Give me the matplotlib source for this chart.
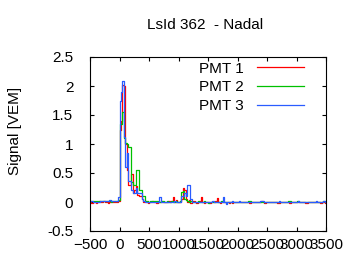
import matplotlib
matplotlib.use("Agg")
import matplotlib.pyplot as plt
import numpy as np

# 25 ns bins from -500 to 3500 ns
bin_width = 25
t_start = -500
t_stop = 3500

labels = ["PMT 1", "PMT 2", "PMT 3"]
colors = ["#ff0000", "#00c000", "#2a5cff"]

pmt1 = [
    0.00, -0.01, 0.00, 0.00, -0.01, 0.00, 0.01, 0.00, 0.00, 0.01,
    0.00, 0.00, -0.01, 0.00, 0.01, 0.00, 0.00, 0.00, 0.00, 0.02,
    1.25, 1.40, 2.02, 2.00, 1.00, 0.55, 0.30, 0.30, 0.48, 0.15,
    0.20, 0.28, 0.12, 0.10, 0.10, 0.05, 0.00, 0.01, 0.00, -0.01,
    0.00, 0.00, 0.01, 0.00, 0.00, -0.01, 0.00, 0.00, 0.01, 0.00,
    0.00, 0.00, 0.00, 0.01, 0.00, 0.02, 0.09, 0.00, 0.03, 0.00,
    0.00, 0.00, 0.05, 0.25, 0.20, 0.05, 0.00, 0.03, -0.02, 0.00,
    0.01, 0.00, -0.02, 0.00, 0.02, 0.08, 0.00, -0.02, 0.00, 0.00,
    0.00, -0.02, 0.00, 0.00, 0.00, 0.01, 0.07, 0.00, -0.02, 0.00,
    0.00, 0.00, 0.00, 0.00, -0.02, 0.00, -0.02, 0.00, 0.00, 0.00,
    0.00, 0.00, 0.00, 0.00, 0.00, 0.00, 0.00, 0.00, -0.02, 0.00,
    0.00, 0.00, 0.00, 0.00, 0.00, 0.00, 0.02, 0.00, -0.02, 0.00,
    0.00, 0.00, 0.00, 0.00, 0.00, 0.00, 0.00, -0.02, -0.02, 0.00,
    0.00, 0.00, 0.00, 0.00, 0.00, -0.02, 0.00, 0.00, 0.00, 0.00,
    0.00, 0.00, 0.00, 0.00, 0.00, 0.00, -0.02, -0.02, 0.00, 0.00,
    0.00, 0.00, 0.00, 0.00, 0.00, 0.00, -0.02, 0.00, 0.00, -0.01,
]

pmt2 = [
    0.02, 0.02, 0.02, 0.01, 0.01, 0.01, 0.01, 0.01, 0.01, 0.01,
    0.01, 0.01, 0.01, 0.01, 0.00, 0.01, 0.01, 0.01, 0.01, 0.03,
    1.35, 1.35, 1.55, 1.10, 1.02, 1.00, 0.95, 0.95, 0.35, 0.30,
    0.30, 0.55, 0.55, 0.20, 0.20, 0.10, 0.10, 0.02, 0.01, 0.00,
    0.00, 0.01, 0.02, 0.02, 0.02, 0.01, 0.00, 0.00, 0.01, 0.02,
    0.00, 0.00, 0.01, 0.00, 0.00, 0.01, 0.00, 0.00, 0.02, 0.00,
    0.00, 0.02, 0.17, 0.19, 0.05, 0.03, 0.02, 0.00, 0.01, 0.00,
    0.00, 0.00, 0.00, 0.01, 0.00, 0.00, 0.00, 0.02, 0.00, 0.00,
    -0.01, 0.00, 0.00, 0.00, 0.00, 0.00, 0.00, 0.00, 0.00, 0.02,
    0.00, 0.00, 0.00, 0.00, 0.00, 0.00, 0.00, 0.00, 0.00, 0.00,
    0.00, 0.00, 0.00, 0.00, 0.00, 0.00, 0.00, 0.02, 0.02, 0.00,
    0.00, 0.00, 0.00, 0.00, 0.00, 0.00, 0.00, 0.00, 0.00, 0.00,
    0.00, 0.00, 0.00, 0.00, 0.00, 0.00, 0.00, 0.00, 0.00, 0.00,
    0.00, 0.00, 0.00, 0.00, 0.02, 0.02, 0.00, 0.00, 0.00, 0.00,
    0.02, 0.02, 0.00, 0.00, 0.00, 0.00, 0.00, 0.00, 0.00, 0.00,
    0.00, 0.00, 0.00, 0.00, 0.00, 0.00, 0.00, 0.00, 0.02, 0.00,
]

pmt3 = [
    0.01, 0.01, 0.00, 0.00, 0.00, 0.00, 0.00, 0.01, 0.02, 0.02,
    0.02, 0.02, 0.02, 0.03, 0.02, 0.01, 0.02, 0.02, 0.01, 0.08,
    1.75, 1.90, 2.08, 1.12, 0.60, 0.85, 0.36, 0.36, 0.20, 0.15,
    0.15, 0.25, 0.15, 0.15, 0.15, 0.05, 0.02, 0.00, 0.00, 0.00,
    0.00, 0.00, 0.00, 0.00, 0.00, 0.00, 0.00, 0.09, 0.00, 0.00,
    0.00, 0.00, 0.00, 0.00, 0.00, 0.00, 0.00, 0.02, 0.00, 0.00,
    0.00, 0.00, 0.10, 0.10, 0.16, 0.10, 0.29, 0.29, 0.05, 0.00,
    0.00, 0.00, 0.00, 0.00, 0.00, 0.00, 0.00, 0.00, 0.00, 0.00,
    0.00, 0.00, 0.00, 0.02, 0.00, 0.00, 0.00, 0.00, 0.00, 0.00,
    0.08, 0.00, -0.03, 0.00, 0.00, 0.00, 0.02, 0.00, 0.00, 0.00,
    0.00, 0.02, 0.00, 0.00, 0.00, 0.00, 0.00, 0.00, 0.00, 0.00,
    0.00, 0.00, 0.00, 0.00, 0.00, 0.02, 0.02, 0.02, 0.00, 0.00,
    0.00, 0.00, 0.00, 0.00, 0.00, 0.00, 0.00, 0.00, 0.02, 0.00,
    0.00, 0.00, 0.00, 0.00, 0.00, 0.00, 0.00, 0.00, 0.00, 0.00,
    0.00, 0.02, 0.00, 0.00, 0.00, 0.00, 0.00, 0.00, 0.00, 0.00,
    0.00, 0.00, 0.00, 0.02, 0.00, 0.00, 0.00, 0.00, 0.02, 0.00,
]

x_ticks = [-500, 0, 500, 1000, 1500, 2000, 2500, 3000, 3500]
y_ticks = [-0.5, 0, 0.5, 1, 1.5, 2, 2.5]
y_tick_labels = ["-0.5", "0", "0.5", "1", "1.5", "2", "2.5"]

FS = 11

plt.rcParams["font.family"] = ["Liberation Sans", "DejaVu Sans"]
plt.rcParams["font.size"] = FS

fig = plt.figure(figsize=(3.6, 2.7), dpi=100)
ax = fig.add_axes([90 / 360, 1 - 231 / 270, 236 / 360, 174 / 270])

edges = np.arange(t_start, t_stop + bin_width, bin_width)
for vals, lab, col in zip([pmt1, pmt2, pmt3], labels, colors):
    y = np.append(vals, vals[-1])
    ax.step(edges, y, where="post", color=col, lw=0.9, label=lab)

ax.set_xlim(-500, 3500)
ax.set_ylim(-0.5, 2.5)
ax.set_xticks(x_ticks)
ax.set_yticks(y_ticks)
ax.set_yticklabels(y_tick_labels)
ax.tick_params(direction="in", length=3, width=0.8, top=True, right=True,
               labelsize=FS, colors="black")
ax.tick_params(axis="x", pad=5)
ax.tick_params(axis="y", pad=12)
for sp in ax.spines.values():
    sp.set_linewidth(0.8)

ax.legend(loc="upper right", bbox_to_anchor=(0.907, 0.973), frameon=False,
          markerfirst=False, handlelength=3.05, handletextpad=0.9,
          labelspacing=0.3, borderpad=0.0, borderaxespad=0.0, fontsize=FS)

fig.text(205 / 360, 1 - 25 / 270, "LsId 362  - Nadal", ha="center",
         va="center", fontsize=FS)
fig.text(15 / 360, 1 - 131 / 270, "Signal [VEM]", ha="center", va="center",
         rotation=90, fontsize=FS)

fig.savefig("out.png", dpi=100)
